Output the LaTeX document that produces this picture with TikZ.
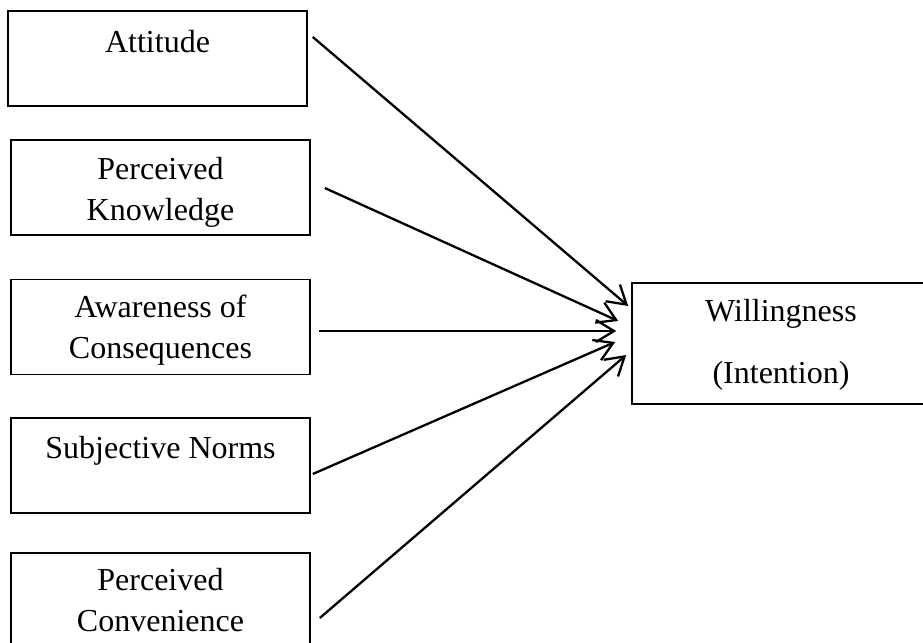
\documentclass[tikz,border=0pt]{standalone}
\usepackage{fontspec}
\setmainfont{Liberation Serif}
\usetikzlibrary{arrows.meta}

\begin{document}
\begin{tikzpicture}[x=0.5pt,y=-0.5pt,
    factor/.style={draw,line width=0.8pt,inner sep=0pt,minimum width=149.5pt,minimum height=47.5pt},
    factortext/.style={anchor=base,align=center,inner sep=0pt,font=\fontsize{16}{20.5}\selectfont},
    link/.style={line width=1.15pt,-{Straight Barb[length=9pt,width=11pt]}}]
    \clip (0,0) rectangle (923,643);
    % left boxes, \b = baseline of the last text line below the top edge
    \foreach \n/\x/\y/\b/\txt in {1/157.5/58.5/21/Attitude, 2/160.5/187.5/40.5/{Perceived\\Knowledge},
                                  3/160.5/327/40/{Awareness of\\Consequences}, 4/160.5/465.5/20.5/Subjective Norms,
                                  5/160.5/600.5/39.5/{Perceived\\Convenience}} {
        \node[factor] (f\n) at (\x,\y) {};
        \node[factortext] (t\n) at ([yshift=-\b pt]f\n.north) {\txt};
    }
    \node[factor,minimum width=149pt,minimum height=60.5pt] (w) at (781,343.5) {};
    \node[factortext,font=\fontsize{16}{31}\selectfont] (wt) at ([yshift=-50.5pt]w.north) {Willingness\\(Intention)};
    \foreach \n/\sx/\sy/\ex/\ey in {1/5/-21.5/-3/-37.5, 2/14/0.5/-13/-22.5, 3/8/4/-15/-12.5,
                                    4/2/8.5/-16/-1.5, 5/9/17.5/-5/11.5}
        \draw[link] ([shift={(\sx,\sy)}]f\n.east) -- ([shift={(\ex,\ey)}]w.west);
\end{tikzpicture}
\end{document}
